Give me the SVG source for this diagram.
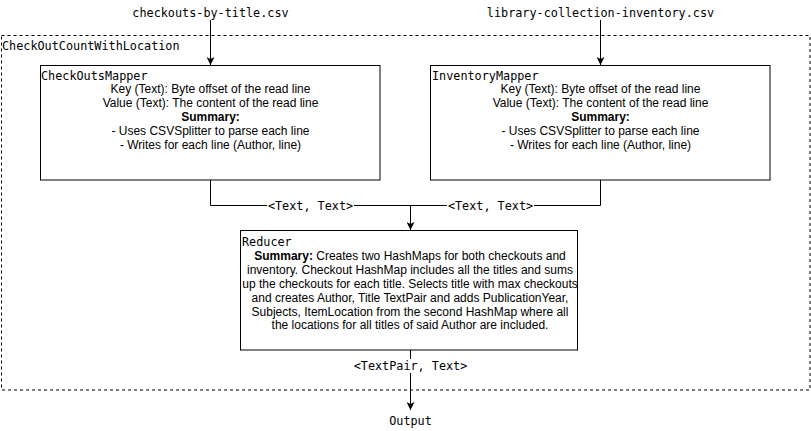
<svg xmlns="http://www.w3.org/2000/svg" width="811" height="431" viewBox="0 0 811 431">
<defs>
<style>
.mono{font-family:"DejaVu Sans Mono","Liberation Mono",monospace;font-size:11.8px;fill:#000}
.body{font-family:"Liberation Sans",Arial,sans-serif;font-size:12px;fill:#000;text-anchor:middle}
.box{fill:#fff;stroke:#000;stroke-width:1}
.edge{fill:none;stroke:#000;stroke-width:1}
.lbg{fill:#fff}
</style>
<marker id="arr" viewBox="0 0 10 10" refX="10" refY="5" markerWidth="8" markerHeight="8" markerUnits="userSpaceOnUse" orient="auto">
<path d="M0,0 L10,5 L0,10 L2.5,5 Z" fill="#000"/>
</marker>
</defs>
<rect width="811" height="431" fill="#fff"/>
<g id="container">
<rect x="1.5" y="35.5" width="808.5" height="354.5" fill="none" stroke="#000" stroke-dasharray="3 3"/>
<text class="mono" x="2" y="50">CheckOutCountWithLocation</text>
</g>
<g id="connectors">
<line class="edge" x1="210.5" y1="20" x2="210.5" y2="65" marker-end="url(#arr)"/>
<line class="edge" x1="600.5" y1="20" x2="600.5" y2="65" marker-end="url(#arr)"/>
<polyline class="edge" points="210.5,180 210.5,205.5 410.5,205.5 410.5,230" marker-end="url(#arr)"/>
<polyline class="edge" points="600.5,180 600.5,205.5 410.5,205.5"/>
<line class="edge" x1="410.5" y1="350" x2="410.5" y2="410" marker-end="url(#arr)"/>
<rect class="lbg" x="267" y="199" width="87" height="13"/>
<text class="mono" x="310.5" y="209.5" text-anchor="middle">&lt;Text, Text&gt;</text>
<rect class="lbg" x="447" y="199" width="87" height="13"/>
<text class="mono" x="490.5" y="209.5" text-anchor="middle">&lt;Text, Text&gt;</text>
<rect class="lbg" x="352" y="359" width="117" height="14"/>
<text class="mono" x="410.5" y="370" text-anchor="middle">&lt;TextPair, Text&gt;</text>
</g>
<g id="input1">
<text class="mono" x="210.5" y="17" text-anchor="middle">checkouts-by-title.csv</text>
</g>
<g id="input2">
<text class="mono" x="600.5" y="17" text-anchor="middle">library-collection-inventory.csv</text>
</g>
<g id="checkoutsMapper">
<rect class="box" x="40.5" y="65.5" width="339.5" height="114.5"/>
<text class="mono" x="41" y="80">CheckOutsMapper</text>
<text class="body" x="210.5" y="93.3">Key (Text): Byte offset of the read line</text>
<text class="body" x="210.5" y="107.1">Value (Text): The content of the read line</text>
<text class="body" x="210.5" y="120.9" font-weight="bold">Summary:</text>
<text class="body" x="210.5" y="134.7">- Uses CSVSplitter to parse each line</text>
<text class="body" x="210.5" y="148.5">- Writes for each line (Author, line)</text>
</g>
<g id="inventoryMapper">
<rect class="box" x="430.5" y="65.5" width="339.5" height="114.5"/>
<text class="mono" x="432" y="80">InventoryMapper</text>
<text class="body" x="600.5" y="93.3">Key (Text): Byte offset of the read line</text>
<text class="body" x="600.5" y="107.1">Value (Text): The content of the read line</text>
<text class="body" x="600.5" y="120.9" font-weight="bold">Summary:</text>
<text class="body" x="600.5" y="134.7">- Uses CSVSplitter to parse each line</text>
<text class="body" x="600.5" y="148.5">- Writes for each line (Author, line)</text>
</g>
<g id="reducer">
<rect class="box" x="240.5" y="230.5" width="337" height="119.5"/>
<text class="mono" x="242" y="246">Reducer</text>
<text class="body" x="410" y="260.3"><tspan font-weight="bold">Summary:</tspan> Creates two HashMaps for both checkouts and</text>
<text class="body" x="410" y="274.1">inventory. Checkout HashMap includes all the titles and sums</text>
<text class="body" x="410" y="287.9">up the checkouts for each title. Selects title with max checkouts</text>
<text class="body" x="410" y="301.7">and creates Author, Title TextPair and adds PublicationYear,</text>
<text class="body" x="410" y="315.5">Subjects, ItemLocation from the second HashMap where all</text>
<text class="body" x="410" y="329.3">the locations for all titles of said Author are included.</text>
</g>
<g id="output">
<text class="mono" x="410.5" y="425" text-anchor="middle">Output</text>
</g>
</svg>
